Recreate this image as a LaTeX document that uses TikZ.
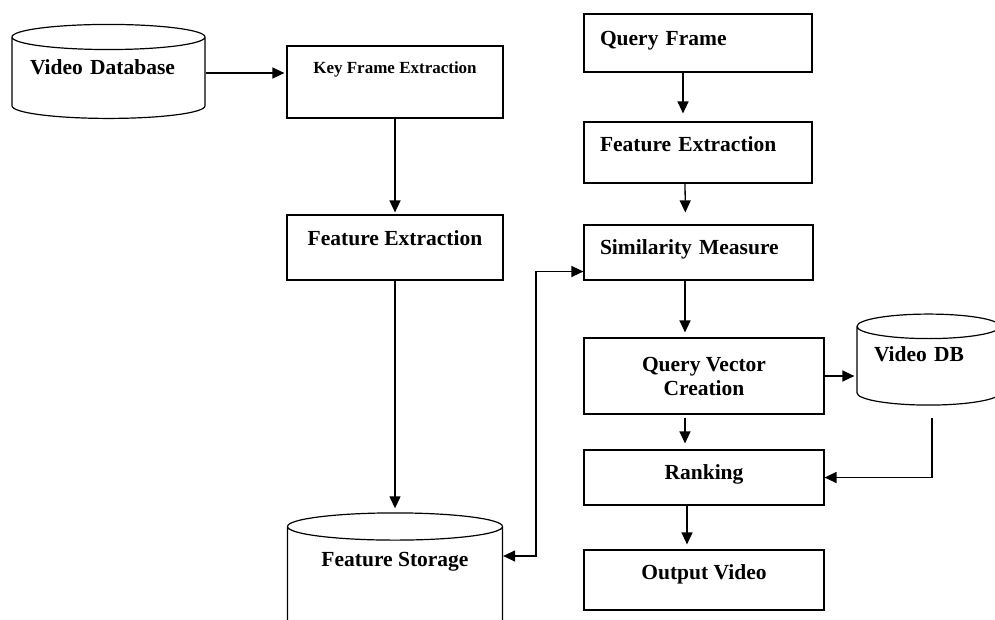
\documentclass[tikz,border=0pt]{standalone}
\usepackage{fontspec}
\setmainfont{Liberation Serif}
\usetikzlibrary{shapes.geometric,arrows.meta}
\tikzset{
  box/.style={draw, rectangle, line width=1.2pt, inner sep=0pt, font=\fontsize{21.5}{24}\selectfont\bfseries},
  lbox/.style={box, align=left, text width=#1},
  db/.style={draw, cylinder, shape border rotate=90, line width=1.2pt, inner sep=0pt, font=\fontsize{21.5}{24}\selectfont\bfseries},
  tdepth/.style={text height=15pt, text depth=#1},
  arr/.style={-{Triangle[length=12pt,width=11pt]}, line width=1.3pt},
  darr/.style={{Triangle[length=12pt,width=11pt]}-{Triangle[length=12pt,width=11pt]}, line width=1.3pt},
}
\begin{document}
\begin{tikzpicture}[x=1pt, y=-1pt]
    \useasboundingbox (0,0) rectangle (995,619);
    \clip (0,0) rectangle (995,619);
    % offline side
    \node[db, aspect=0.16, minimum width=193pt, minimum height=94pt, tdepth=23pt, text width=157pt, align=left] (vdb) at (108.5,78) {Video Database};
    \node[box, minimum width=216pt, minimum height=72pt, tdepth=33pt, font=\fontsize{17}{20}\selectfont\bfseries] (kfe) at (395,82) {Key Frame Extraction};
    \node[box, minimum width=216pt, minimum height=65pt, tdepth=20pt] (fel) at (395,247.5) {Feature Extraction};
    \node[db, aspect=0.185, minimum width=215pt, minimum height=126pt, tdepth=49pt] (fs) at (395,583) {Feature Storage};
    % query side
    \node[lbox=196pt, minimum width=228pt, minimum height=58pt, tdepth=11pt] (qf) at (698,43) {Query Frame};
    \node[lbox=196pt, minimum width=228pt, minimum height=61pt, tdepth=18pt] (fer) at (698,152.5) {Feature Extraction};
    \node[lbox=197pt, minimum width=229pt, minimum height=55pt, tdepth=12pt] (sm) at (698.5,252.5) {Similarity Measure};
    \node[box, minimum width=240pt, minimum height=76pt, align=center] (qvc) at (704,376) {Query Vector\\Creation};
    \node[db, aspect=0.225, minimum width=143pt, minimum height=91pt, tdepth=25pt, text width=109pt, align=left] (vdb2) at (928.5,366) {Video DB};
    \node[box, minimum width=240pt, minimum height=55pt, tdepth=12pt] (rank) at (704,477.5) {Ranking};
    \node[box, minimum width=240pt, minimum height=60pt, tdepth=17pt] (ov) at (704,580) {Output Video};
    \coordinate (bend) at (536,556);

    \draw[arr, shorten >=2pt] ([yshift=5pt]vdb.east) -- ([yshift=5pt]vdb.east -| kfe.west);
    \draw[arr, shorten >=2pt] (kfe) -- (fel);
    \draw[arr, shorten >=4pt] (fel) -- (fs);
    \draw[darr] ([yshift=-19pt]sm.west) -| (bend) -- (fs.east |- bend);
    \draw[arr, shorten >=8pt] ([xshift=-15pt]qf.south) -- ([xshift=-15pt]fer.north);
    \draw[arr, shorten >=12pt] ([xshift=-13pt]fer.south) -- ([xshift=-13pt]sm.north);
    \draw[arr, shorten >=5pt] ([xshift=-13.5pt]sm.south) -- ([xshift=-19pt]qvc.north);
    \draw[arr, shorten <=3pt, shorten >=6pt] ([xshift=-19pt]qvc.south) -- ([xshift=-19pt]rank.north);
    \draw[arr, shorten >=2pt] (qvc.east) -- (qvc.east -| vdb2.west);
    \draw[arr, shorten <=12pt] ([xshift=3.5pt]vdb2.south) |- (rank.east);
    \draw[arr, shorten >=5pt] ([xshift=-17pt]rank.south) -- ([xshift=-17pt]ov.north);
\end{tikzpicture}
\end{document}
